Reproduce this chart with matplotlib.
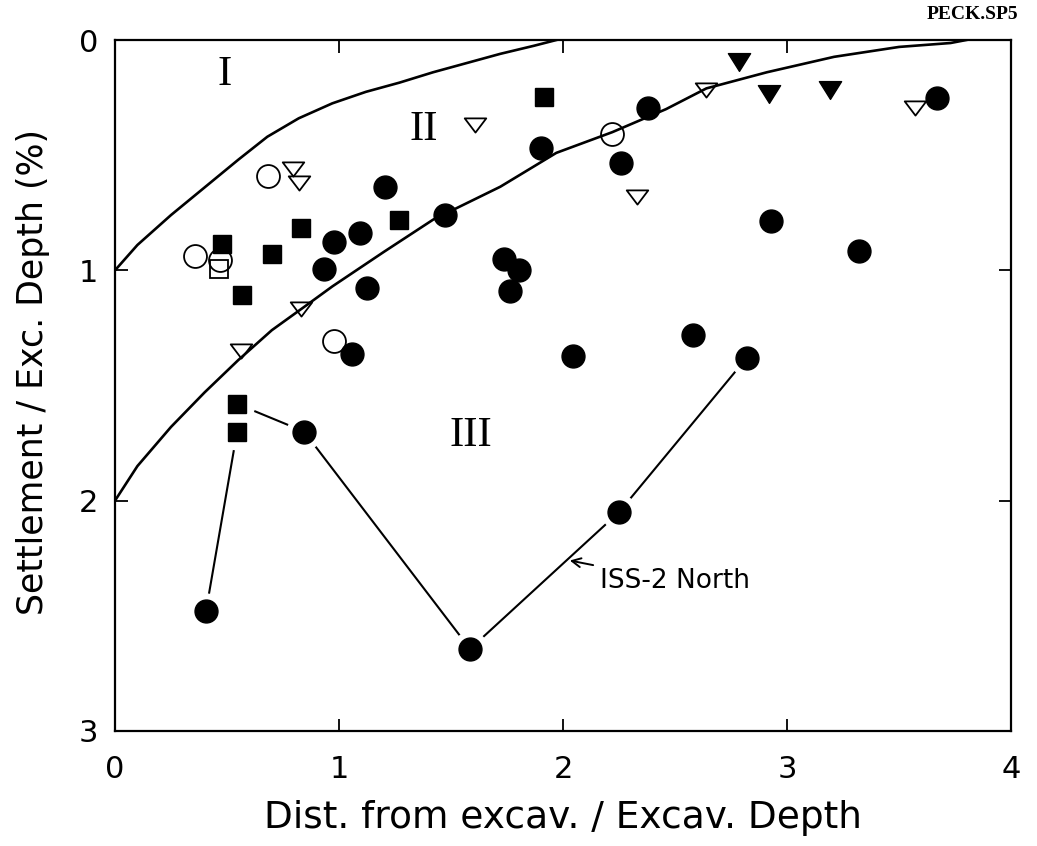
import matplotlib
matplotlib.use("Agg")
import matplotlib.pyplot as plt
from matplotlib.path import Path

# ---- data ---------------------------------------------------------------
# Zone boundary I / II
bound1_x = [0.00, 0.10, 0.25, 0.40, 0.55, 0.68, 0.82, 0.97, 1.12, 1.27, 1.42, 1.57, 1.72, 1.87, 1.97]
bound1_y = [1.00, 0.89, 0.76, 0.64, 0.52, 0.42, 0.34, 0.275, 0.225, 0.185, 0.14, 0.10, 0.06, 0.025, 0.00]
# Zone boundary II / III
bound2_x = [0.00, 0.10, 0.25, 0.40, 0.55, 0.70, 0.857, 0.97, 1.20, 1.42, 1.72, 1.97, 2.22, 2.46, 2.64, 2.91, 3.21, 3.50, 3.73, 3.80]
bound2_y = [2.00, 1.85, 1.68, 1.53, 1.39, 1.26, 1.15, 1.07, 0.92, 0.78, 0.637, 0.49, 0.40, 0.30, 0.21, 0.14, 0.073, 0.03, 0.013, 0.00]

# Filled circles
fc_x = [0.978, 0.933, 1.094, 1.205, 1.125, 1.473, 1.06, 1.737, 1.804, 1.763, 1.90, 2.38, 2.26, 2.93, 3.32, 3.67, 2.045, 2.58, 2.82, 2.25, 1.585, 0.844, 0.406]
fc_y = [0.876, 0.993, 0.838, 0.64, 1.075, 0.759, 1.365, 0.95, 1.00, 1.09, 0.47, 0.295, 0.535, 0.785, 0.915, 0.25, 1.37, 1.28, 1.38, 2.05, 2.644, 1.70, 2.48]
# Filled squares
fs_x = [0.478, 0.567, 0.70, 0.83, 1.268, 1.915, 0.545, 0.545]
fs_y = [0.884, 1.105, 0.93, 0.815, 0.78, 0.247, 1.58, 1.70]
# Open circles
oc_x = [0.357, 0.683, 0.469, 0.978, 2.22]
oc_y = [0.936, 0.59, 0.954, 1.305, 0.407]
# Open square
os_x = [0.464]
os_y = [0.993]
# Open (downward) triangles
ot_x = [0.795, 0.82, 1.607, 0.83, 0.563, 2.64, 2.33, 3.57]
ot_y = [0.56, 0.62, 0.368, 1.17, 1.35, 0.217, 0.68, 0.295]
# Filled (downward) triangles
ft_x = [2.785, 2.92, 3.19]
ft_y = [0.095, 0.235, 0.217]

# ISS-2 North profile
iss_x = [0.406, 0.545, 0.545, 0.844, 1.585, 2.25, 2.82]
iss_y = [2.48, 1.70, 1.58, 1.70, 2.644, 2.05, 1.38]

zone_labels = ["I", "II", "III"]
zone_x = [0.49, 1.38, 1.59]
zone_y = [0.15, 0.39, 1.72]

x_ticks = [0, 1, 2, 3, 4]
y_ticks = [0, 1, 2, 3]

plt.rcParams["font.family"] = ["DejaVu Sans"]

# ---- figure -------------------------------------------------------------
fig = plt.figure(figsize=(10.37, 8.46), dpi=100)
ax = fig.add_axes([0.1109, 0.136, 0.975 - 0.1109, 0.9527 - 0.136])

ax.set_xlim(0, 4)
ax.set_ylim(3, 0)

# Flattened downward triangles
tri_open = Path([(-1, 0.66), (1, 0.66), (0, -0.66), (-1, 0.66)], closed=True)
tri_fill = Path([(-1, 0.8), (1, 0.8), (0, -0.8), (-1, 0.8)], closed=True)

ax.plot(bound1_x, bound1_y, color="black", lw=1.9, zorder=2)
ax.plot(bound2_x, bound2_y, color="black", lw=1.9, zorder=2)

# ISS-2 North line, with white halos round its markers
ax.plot(iss_x, iss_y, color="black", lw=1.5, zorder=2)
ax.plot(iss_x, iss_y, ls="none", marker="o", ms=25, mfc="white", mec="white", zorder=3)

ms_c = 16.5
ax.plot(fc_x, fc_y, ls="none", marker="o", ms=ms_c, mfc="black", mec="black", zorder=4)
ax.plot(fs_x, fs_y, ls="none", marker="s", ms=13.5, mfc="black", mec="black", zorder=4)
ax.plot(oc_x, oc_y, ls="none", marker="o", ms=ms_c, mfc="none", mec="black", mew=1.3, zorder=5)
ax.plot(os_x, os_y, ls="none", marker="s", ms=12.5, mfc="none", mec="black", mew=1.3, zorder=5)
ax.plot(ot_x, ot_y, ls="none", marker=tri_open, ms=15.5, mfc="none", mec="black", mew=1.3, zorder=5)
ax.plot(ft_x, ft_y, ls="none", marker=tri_fill, ms=16, mfc="black", mec="black", zorder=4)

for lab, zx, zy in zip(zone_labels, zone_x, zone_y):
    ax.text(zx, zy, lab, family="Liberation Serif", fontsize=31,
            ha="center", va="center", zorder=6)

ax.annotate("ISS-2 North", xy=(2.03, 2.26), xytext=(2.165, 2.35),
            fontsize=19, ha="left", va="center", family="DejaVu Sans",
            arrowprops=dict(arrowstyle="->", color="black", lw=1.4,
                            shrinkA=3, shrinkB=0, mutation_scale=16))

ax.set_xticks(x_ticks)
ax.set_yticks(y_ticks)
ax.set_xticklabels([str(v) for v in x_ticks])
ax.set_yticklabels([str(v) for v in y_ticks])
ax.tick_params(direction="in", length=9, width=1.3, labelsize=22, top=True, right=True)
ax.tick_params(axis="x", pad=17)
ax.tick_params(axis="y", pad=12)
for side in ax.spines.values():
    side.set_linewidth(1.6)

ax.set_xlabel("Dist. from excav. / Excav. Depth", fontsize=27, labelpad=12)
ax.set_ylabel("Settlement / Exc. Depth (%)", fontsize=25)
ax.yaxis.set_label_coords(-0.072, 0.52)

fig.text(0.982, 0.993, "PECK.SP5", family="Liberation Serif", fontweight="bold",
         fontsize=14, ha="right", va="top")

fig.savefig("out.png", dpi=100, facecolor="white")
